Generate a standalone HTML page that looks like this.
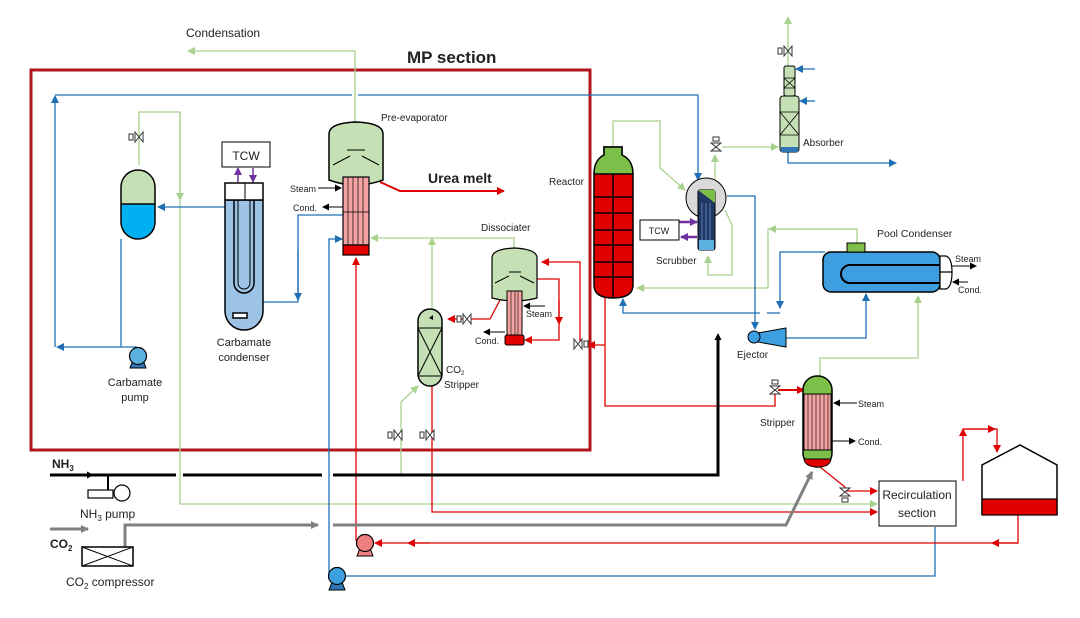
<!DOCTYPE html>
<html><head><meta charset="utf-8"><style>
html,body{margin:0;padding:0;background:#fff}
svg{display:block}
text{font-family:"Liberation Sans",sans-serif;fill:#222}
</style></head><body>
<svg width="1080" height="618" viewBox="0 0 1080 618" xmlns="http://www.w3.org/2000/svg">
<defs>
<marker id="ab" markerWidth="8" markerHeight="8" refX="7" refY="4" orient="auto" markerUnits="userSpaceOnUse"><path d="M0,0 L8,4 L0,8 z" fill="#1f6fb5"/></marker>
<marker id="ag" markerWidth="8" markerHeight="8" refX="7" refY="4" orient="auto" markerUnits="userSpaceOnUse"><path d="M0,0 L8,4 L0,8 z" fill="#a9d18e"/></marker>
<marker id="ar" markerWidth="8" markerHeight="8" refX="7" refY="4" orient="auto" markerUnits="userSpaceOnUse"><path d="M0,0 L8,4 L0,8 z" fill="#e00000"/></marker>
<marker id="ak" markerWidth="7" markerHeight="7" refX="6" refY="3.5" orient="auto" markerUnits="userSpaceOnUse"><path d="M0,0 L7,3.5 L0,7 z" fill="#000"/></marker>
<marker id="ay" markerWidth="8" markerHeight="8" refX="7" refY="4" orient="auto" markerUnits="userSpaceOnUse"><path d="M0,0 L8,4 L0,8 z" fill="#808080"/></marker>
<marker id="ap" markerWidth="8" markerHeight="8" refX="7" refY="4" orient="auto" markerUnits="userSpaceOnUse"><path d="M0,0 L8,4 L0,8 z" fill="#7030a0"/></marker>
<g id="valve"><path d="M-4,-5 L4,5 L4,-5 L-4,5 z" fill="#fff" stroke="#333" stroke-width="1"/><rect x="-10" y="-3" width="4" height="6" fill="#fff" stroke="#333" stroke-width="1"/></g>
<g id="valveV"><path d="M-5,-4 L5,4 L-5,4 L5,-4 z" fill="#fff" stroke="#333" stroke-width="1"/><rect x="-3" y="-10" width="6" height="4" fill="#fff" stroke="#333" stroke-width="1"/></g>
</defs>

<rect x="31" y="70" width="559" height="380" fill="none" stroke="#b0161c" stroke-width="3"/>
<text x="407" y="63" font-size="17" font-weight="bold">MP section</text>
<text x="186" y="37" font-size="12">Condensation</text>

<g fill="none" stroke-width="1.3">
<g stroke="#a9d18e">
<path d="M355,123 V51 H188" marker-end="url(#ag)"/>
<path d="M139,165 V112 H180 V504 H877" marker-end="url(#ag)"/>
<path d="M180,112 V200" marker-end="url(#ag)"/>
<path d="M514,250 V238 H371" marker-end="url(#ag)"/>
<path d="M432,308 V238" marker-end="url(#ag)"/>
<path d="M401,475 V402 L418,386" marker-end="url(#ag)"/>
<path d="M613,147 V121 H660 V168 L685,190" marker-end="url(#ag)"/>
<path d="M715,188 V155" marker-end="url(#ag)"/>
<path d="M722,147 H778" marker-end="url(#ag)"/>
<path d="M788,66 V17" marker-end="url(#ag)"/>
<path d="M725,210 L732,225 V275 H708 V256" marker-end="url(#ag)"/>
<path d="M857,243 V229 H768 V288 H750" />
<path d="M857,229 H769" marker-end="url(#ag)"/>
<path d="M752,288 H637" marker-end="url(#ag)"/>
<path d="M820,376 V358 H918 V296" marker-end="url(#ag)"/>
</g>
<g stroke="#1f6fb5">
<path d="M352,95 H55 V95" />
<path d="M55,347 V96" marker-end="url(#ab)"/>
<path d="M358,95 H698 V180" marker-end="url(#ab)"/>
<path d="M137,347 H57" marker-end="url(#ab)"/>
<path d="M121,239 V347"/>
<path d="M225,207 H158" marker-end="url(#ab)"/>
<path d="M245,302 H298 V215 H343"/>
<path d="M298,250 V300" marker-end="url(#ab)"/>
<path d="M329,576 V239 H342" marker-end="url(#ab)"/>
<path d="M345,576 H935 V527"/>
<path d="M788,152 V163 H896" marker-end="url(#ab)"/>
<path d="M815,69 H796" marker-end="url(#ab)"/>
<path d="M815,101 H800" marker-end="url(#ab)"/>
<path d="M727,196 H755 V329" marker-end="url(#ab)"/>
<path d="M786,338 H866 V294" marker-end="url(#ab)"/>
<path d="M825,252 H780 V308" marker-end="url(#ab)"/>
<path d="M760,313 H623 V299" marker-end="url(#ab)"/>
<path d="M767,313 H780"/>
</g>
<g stroke="#e00000">
<path d="M380,182 L400,191 H504" stroke-width="2" marker-end="url(#ar)"/>
<path d="M356,541 V258" marker-end="url(#ar)"/>
<path d="M580,345 V262 H542" marker-end="url(#ar)"/>
<path d="M537,279 H559 V340 H525" marker-end="url(#ar)"/>
<path d="M559,300 V324" marker-end="url(#ar)"/>
<path d="M500,300 L490,319 H448" marker-end="url(#ar)"/>
<path d="M432,386 V512 H877" marker-end="url(#ar)"/>
<path d="M605,297 V406 H775 V391"/>
<path d="M778,390 H804" stroke-width="2" marker-end="url(#ar)"/>
<path d="M605,345 H588" marker-end="url(#ar)"/>
<path d="M820,467 L845,487 V491 H877" marker-end="url(#ar)"/>
<path d="M1018,515 V543 H375" marker-end="url(#ar)"/>
<path d="M1018,543 H992" marker-end="url(#ar)"/>
<path d="M430,543 H408" marker-end="url(#ar)"/>
<path d="M963,481 V429" marker-end="url(#ar)"/>
<path d="M963,429 H997 V452" marker-end="url(#ar)"/>
<path d="M963,429 H995" marker-end="url(#ar)"/>
</g>
<g stroke="#7030a0" stroke-width="1.5">
<path d="M238,182 V168" marker-end="url(#ap)"/>
<path d="M253,168 V182" marker-end="url(#ap)"/>
<path d="M679,222 H697" stroke-width="2.5" marker-end="url(#ap)"/>
<path d="M697,237 H681" stroke-width="2.5" marker-end="url(#ap)"/>
</g>
<path d="M50,475 H176 M183,475 H322 M333,475 H718 V339" stroke="#000" stroke-width="3"/>
<path d="M718,342 V334" stroke="#000" stroke-width="1" marker-end="url(#ak)"/>
<path d="M50,475 H93" stroke="#000" stroke-width="2" marker-end="url(#ak)"/>
<path d="M108,475 V492" stroke="#000" stroke-width="2"/>
<path d="M50,529 H88" stroke="#808080" stroke-width="3" marker-end="url(#ay)"/>
<path d="M125,547 V525 H318" stroke="#808080" stroke-width="3" marker-end="url(#ay)"/>
<path d="M333,525 H786 L812,472" stroke="#808080" stroke-width="3" marker-end="url(#ay)"/>
<g stroke="#000" stroke-width="1">
<path d="M318,188 H341" marker-end="url(#ak)"/>
<path d="M343,207 H323" marker-end="url(#ak)"/>
<path d="M545,306 H524" marker-end="url(#ak)"/>
<path d="M505,332 H484" marker-end="url(#ak)"/>
<path d="M952,266 H976" marker-end="url(#ak)"/>
<path d="M968,282 H953" marker-end="url(#ak)"/>
<path d="M857,403 H834" marker-end="url(#ak)"/>
<path d="M832,441 H855" marker-end="url(#ak)"/>
</g>
</g>

<path d="M121,204 V187 A17,17 0 0 1 155,187 V204 z" fill="#c5e0b4"/>
<path d="M121,204 V222 A17,17 0 0 0 155,222 V204 z" fill="#00b0f0"/>
<rect x="121" y="170" width="34" height="69" rx="17" fill="none" stroke="#000" stroke-width="1.5"/>
<line x1="121" y1="204" x2="155" y2="204" stroke="#000" stroke-width="1.5"/>
<use href="#valve" x="139" y="137"/>
<path d="M130,368 L146,368 L143,360 L133,360 z" fill="#2e75b6" stroke="#000" stroke-width="1"/>
<circle cx="138" cy="356" r="8.5" fill="#5bb0e0" stroke="#000" stroke-width="1.2"/>
<text x="135" y="386" font-size="11" text-anchor="middle">Carbamate</text>
<text x="135" y="401" font-size="11" text-anchor="middle">pump</text>
<rect x="222" y="142" width="48" height="25" fill="#fff" stroke="#000"/>
<text x="246" y="160" font-size="12" text-anchor="middle">TCW</text>
<path d="M225,200 V311 A19,19 0 0 0 263,311 V200 z" fill="#9dc3e6" stroke="#000" stroke-width="1.5"/>
<rect x="225" y="183" width="38" height="17" fill="#fff" stroke="#000" stroke-width="1.5"/>
<line x1="245" y1="183" x2="245" y2="200" stroke="#000"/>
<path d="M234,200 V283 A10,10 0 0 0 254,283 V200" fill="none" stroke="#000" stroke-width="1.5"/>
<path d="M238,200 V283 A6,6 0 0 0 250,283 V200" fill="none" stroke="#000" stroke-width="1"/>
<rect x="233" y="313" width="14" height="5" fill="#fff" stroke="#000" stroke-width="1.5"/>
<text x="244" y="346" font-size="11" text-anchor="middle">Carbamate</text>
<text x="244" y="361" font-size="11" text-anchor="middle">condenser</text>
<path d="M329,180 V134 Q329,123 356,122 Q383,123 383,134 V180 Q356,190 329,180 z" fill="#c5e0b4" stroke="#000" stroke-width="1.5"/>
<path d="M347,150 H365 M333,165 L350,156 M379,165 L362,156" stroke="#000" fill="none"/>
<rect x="343" y="177" width="26" height="68" fill="#f4a3a3" stroke="#000" stroke-width="1.2"/>
<path d="M348,177 V245 M353,177 V245 M358,177 V245 M363,177 V245 M343,212 H369" stroke="#000" stroke-width="0.7"/>
<rect x="343" y="245" width="26" height="10" fill="#e00000" stroke="#000" stroke-width="1.2"/>
<text x="381" y="121" font-size="10">Pre-evaporator</text>
<text x="290" y="192" font-size="9">Steam</text>
<text x="293" y="211" font-size="9">Cond.</text>
<text x="428" y="183" font-size="14" font-weight="bold">Urea melt</text>
<path d="M492,298 V258 Q492,249 514,248 Q537,249 537,258 V298 Q514,304 492,298 z" fill="#c5e0b4" stroke="#000" stroke-width="1.2"/>
<path d="M509,272 H521 M495,283 L509,276 M534,283 L520,276" stroke="#000" fill="none"/>
<rect x="507" y="291" width="15" height="44" fill="#f4a3a3" stroke="#000" stroke-width="1"/>
<path d="M511,291 V335 M515,291 V335 M518,291 V335" stroke="#000" stroke-width="0.6"/>
<rect x="505" y="335" width="19" height="10" rx="2" fill="#e00000" stroke="#000" stroke-width="1"/>
<text x="481" y="231" font-size="10">Dissociater</text>
<text x="526" y="317" font-size="9">Steam</text>
<text x="475" y="344" font-size="9">Cond.</text>
<use href="#valve" x="467" y="319"/>
<use href="#valve" x="578" y="344" transform="rotate(180 578 344)"/>
<rect x="418" y="309" width="24" height="77" rx="12" fill="#c5e0b4" stroke="#000" stroke-width="1.5"/>
<path d="M418,328 H442 M418,376 H442 M418,328 L442,376 M442,328 L418,376" stroke="#000" fill="none"/>
<path d="M429,318 l4,-3 v5 z" fill="#000"/>
<text x="446" y="373" font-size="10">CO<tspan font-size="6" dy="2">2</tspan></text>
<text x="444" y="388" font-size="10">Stripper</text>
<use href="#valve" x="398" y="435"/>
<use href="#valve" x="430" y="435"/>
<path d="M604,155 V147 H622 V155 Q633,160 633,177 V285 Q633,298 613,298 Q594,298 594,285 V177 Q594,160 604,155 z" fill="#e00000" stroke="#000" stroke-width="1.5"/>
<path d="M604,155 V147 H622 V155 Q633,160 633,174 H594 Q594,160 604,155 z" fill="#7cc04a" stroke="#000" stroke-width="1.5"/>
<path d="M594,197 H633 M594,213 H633 M594,230 H633 M594,245 H633 M594,262 H633 M594,277 H633 M613,174 V298" stroke="#000" stroke-width="1.5"/>
<text x="549" y="185" font-size="10">Reactor</text>
<circle cx="706" cy="198" r="20" fill="#d9d9d9" stroke="#000" stroke-width="1"/>
<rect x="698" y="190" width="17" height="60" rx="2" fill="#1f3864" stroke="#000"/>
<path d="M698,190 H715 V203 z" fill="#7cc04a"/>
<path d="M702,203 V240 M706,203 V240 M710,203 V240" stroke="#6b8fc7" stroke-width="0.8"/>
<rect x="699" y="240" width="15" height="10" fill="#5bb0e0"/>
<rect x="640" y="220" width="39" height="20" fill="#fff" stroke="#000"/>
<text x="659" y="234" font-size="9" text-anchor="middle">TCW</text>
<text x="656" y="264" font-size="10">Scrubber</text>
<use href="#valveV" x="716" y="147"/>
<rect x="784" y="66" width="11" height="30" rx="2" fill="#c5e0b4" stroke="#000"/>
<rect x="780" y="96" width="19" height="56" rx="3" fill="#c5e0b4" stroke="#000"/>
<rect x="781" y="147" width="17" height="5" fill="#2e75b6"/>
<path d="M784,78 L795,88 M795,78 L784,88 M784,78 H795 M784,88 H795 M780,112 L799,135 M799,112 L780,135 M780,112 H799 M780,135 H799" stroke="#000" stroke-width="0.8"/>
<use href="#valve" x="788" y="51"/>
<text x="803" y="146" font-size="10">Absorber</text>
<rect x="823" y="252" width="117" height="40" rx="8" fill="#3d9ee0" stroke="#000" stroke-width="1.5"/>
<path d="M940,256 H946 Q952,258 952,272 Q952,287 946,289 H940 z M940,272 H952" fill="#fff" stroke="#000" stroke-width="1.2"/>
<path d="M940,265 H850 A9,9 0 0 0 850,283 H940" fill="none" stroke="#000" stroke-width="2"/>
<rect x="847" y="243" width="18" height="9" fill="#7cc04a" stroke="#000"/>
<text x="877" y="237" font-size="10.5">Pool Condenser</text>
<text x="955" y="262" font-size="9">Steam</text>
<text x="958" y="293" font-size="9">Cond.</text>
<path d="M758,333 L786,328 V347 L758,342 z" fill="#3d9ee0" stroke="#000"/>
<circle cx="754" cy="337" r="6" fill="#3d9ee0" stroke="#000"/>
<text x="737" y="358" font-size="10">Ejector</text>
<rect x="803" y="376" width="29" height="91" rx="14" fill="#7cc04a" stroke="#000" stroke-width="1.5"/>
<rect x="804" y="394" width="27" height="56" fill="#f4a3a3" stroke="#000"/>
<path d="M808,394 V450 M812,394 V450 M816,394 V450 M820,394 V450 M824,394 V450 M828,394 V450" stroke="#000" stroke-width="0.6"/>
<path d="M804,459 H831 Q830,467 818,467 Q805,467 804,459 z" fill="#e00000" stroke="#000"/>
<use href="#valveV" x="775" y="390"/>
<use href="#valveV" x="845" y="492" transform="rotate(180 845 492)"/>
<text x="760" y="426" font-size="10">Stripper</text>
<text x="858" y="407" font-size="9">Steam</text>
<text x="858" y="445" font-size="9">Cond.</text>
<rect x="879" y="481" width="77" height="45" fill="#fff" stroke="#000"/>
<text x="917" y="499" font-size="12" text-anchor="middle">Recirculation</text>
<text x="917" y="517" font-size="12" text-anchor="middle">section</text>
<path d="M982,515 V465 L1020,445 L1057,465 V515" fill="none" stroke="#000" stroke-width="1.5"/>
<rect x="982" y="499" width="75" height="16" fill="#e00000" stroke="#000" stroke-width="1.2"/>
<rect x="88" y="490" width="25" height="8" fill="#fff" stroke="#000" stroke-width="1.2"/>
<circle cx="122" cy="493" r="8" fill="#fff" stroke="#000" stroke-width="1.2"/>
<text x="52" y="468" font-size="12" font-weight="bold">NH<tspan font-size="8" dy="3">3</tspan></text>
<text x="80" y="518" font-size="12">NH<tspan font-size="8" dy="3">3</tspan><tspan dy="-3"> pump</tspan></text>
<rect x="82" y="547" width="51" height="19" fill="#fff" stroke="#000" stroke-width="1.5"/>
<path d="M82,547 L133,566 M133,547 L82,566" stroke="#000"/>
<text x="50" y="548" font-size="12" font-weight="bold">CO<tspan font-size="8" dy="3">2</tspan></text>
<text x="66" y="586" font-size="12">CO<tspan font-size="8" dy="3">2</tspan><tspan dy="-3"> compressor</tspan></text>
<path d="M357,556 L373,556 L370,548 L360,548 z" fill="#f08080" stroke="#000"/>
<circle cx="365" cy="543" r="8.5" fill="#f08080" stroke="#000" stroke-width="1.2"/>
<path d="M329,590 L345,590 L342,582 L332,582 z" fill="#2e75b6" stroke="#000"/>
<circle cx="337" cy="576" r="8.5" fill="#3d9ee0" stroke="#000" stroke-width="1.2"/>
</svg>
</body></html>
